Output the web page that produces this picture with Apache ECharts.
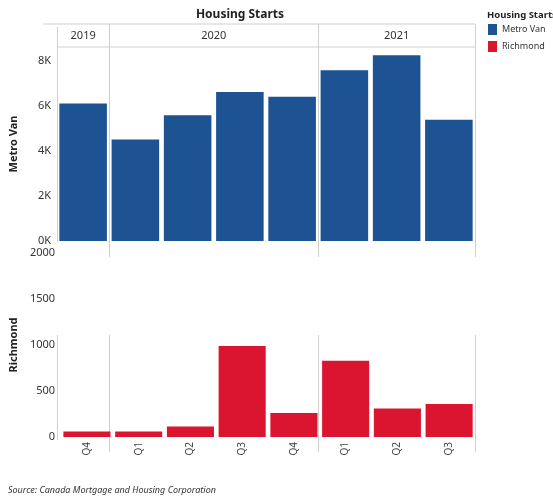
<!DOCTYPE html>
<html>
<head>
<meta charset="utf-8">
<script src="https://cdn.jsdelivr.net/npm/echarts@6/dist/echarts.min.js"></script>
<style>html,body{margin:0;padding:0;background:#fff}#c{width:553px;height:498px}</style>
</head>
<body>
<div id="c"></div>
<script>
const quarters = ['Q4','Q1','Q2','Q3','Q4','Q1','Q2','Q3'];
const years = ['2019','2020','2020','2020','2020','2021','2021','2021'];
const metroVan = [6100, 4500, 5580, 6600, 6390, 7570, 8230, 5380];
const richmond = [60, 60, 115, 990, 260, 830, 310, 360];
const metroTicks = [0, 2000, 4000, 6000, 8000];
const richTicks = [0, 500, 1000, 1500, 2000];

const BLUE = '#1d5293', RED = '#db1530';
const FONT = 'Noto Sans';
const chart = echarts.init(document.getElementById('c'), null, {renderer: 'canvas'});

const option = {
  animation: false,
  textStyle: {fontFamily: FONT},
  legend: {
    data: ['Metro Van', 'Richmond'],
    orient: 'vertical', left: 488, top: 24, padding: 0,
    itemWidth: 9, itemHeight: 11, itemGap: 6, icon: 'rect',
    textStyle: {fontSize: 9, color: '#333', fontFamily: FONT}
  },
  grid: [
    {left: 55, width: 420, top: 47, height: 194},
    {left: 55, width: 420, top: 253, height: 184}
  ],
  xAxis: [
    {type: 'category', gridIndex: 0, data: quarters, axisLine: {show: false}, axisTick: {show: false}, axisLabel: {show: false}},
    {type: 'category', gridIndex: 1, data: quarters, axisLine: {show: false}, axisTick: {show: false},
     axisLabel: {rotate: 90, fontSize: 10, color: '#444', margin: 5, fontFamily: FONT}},
    {type: 'value', gridIndex: 0, min: 0, max: quarters.length, show: false}
  ],
  yAxis: [
    {type: 'value', gridIndex: 0, min: 0, max: 8600, interval: 2000,
     name: 'Metro Van', nameLocation: 'middle', nameGap: 38, nameRotate: 90,
     nameTextStyle: {fontSize: 11, fontWeight: 'bold', color: '#222', fontFamily: FONT},
     axisLine: {show: false}, axisTick: {show: false}, splitLine: {show: false},
     axisLabel: {fontSize: 11, color: '#333', margin: 6, padding: [0,0,7,0], fontFamily: FONT,
       formatter: v => metroTicks.includes(v) ? (v/1000) + 'K' : ''}},
    {type: 'value', gridIndex: 1, min: 0, max: 2000, interval: 500,
     name: 'Richmond', nameLocation: 'middle', nameGap: 38, nameRotate: 90,
     nameTextStyle: {fontSize: 11, fontWeight: 'bold', color: '#222', fontFamily: FONT},
     axisLine: {show: false}, axisTick: {show: false}, splitLine: {show: false},
     axisLabel: {fontSize: 11, color: '#333', margin: 6, padding: [0,0,7,0], fontFamily: FONT,
       formatter: v => richTicks.includes(v) ? String(v) : ''}}
  ],
  series: [
    {name: 'Metro Van', type: 'bar', xAxisIndex: 0, yAxisIndex: 0, data: metroVan,
     itemStyle: {color: BLUE}, barCategoryGap: '9%'},
    {name: 'Richmond', type: 'bar', xAxisIndex: 1, yAxisIndex: 1, data: richmond,
     itemStyle: {color: RED}, barCategoryGap: '9%'}
  ]
};
chart.setOption(option);

// Header / dividers derived from axis scale
const px = v => chart.convertToPixel({xAxisIndex: 2}, v);
const topY0 = chart.convertToPixel({yAxisIndex: 0}, 0);
const topY1 = chart.convertToPixel({yAxisIndex: 0}, 8600);
const botY0 = chart.convertToPixel({yAxisIndex: 1}, 0);
const lineStyle = {stroke: '#cfcfcf', lineWidth: 1};
const graphics = [];
// group boundaries
const groups = [];
years.forEach((y, i) => {
  if (!groups.length || groups[groups.length-1].year !== y) groups.push({year: y, start: i, end: i+1});
  else groups[groups.length-1].end = i+1;
});
const bounds = [0].concat(groups.map(g => g.end));
const headerY = 24;
graphics.push({type: 'line', shape: {x1: 43, y1: headerY, x2: px(quarters.length), y2: headerY}, style: lineStyle});
graphics.push({type: 'line', shape: {x1: px(0), y1: topY1, x2: px(quarters.length), y2: topY1}, style: lineStyle});
bounds.forEach((b, i) => {
  const x = Math.round(px(b)) + 0.5;
  graphics.push({type: 'line', shape: {x1: x, y1: i === 0 ? headerY + 3 : headerY, x2: x, y2: i === 0 ? topY0 : topY0 + 16}, style: lineStyle});
  graphics.push({type: 'line', shape: {x1: x, y1: 335, x2: x, y2: i === 0 ? botY0 + 3 : botY0 + 15}, style: lineStyle});
});
groups.forEach(g => {
  graphics.push({type: 'text', x: (px(g.start) + px(g.end)) / 2, y: (headerY + topY1) / 2,
    style: {text: g.year, fill: '#333', font: '11px "' + FONT + '"', textAlign: 'center', textVerticalAlign: 'middle'}});
});
graphics.push({type: 'text', x: 240, y: 15, style: {text: 'Housing Starts', fill: '#222',
  font: 'bold 12px "' + FONT + '"', textAlign: 'center', textVerticalAlign: 'middle'}});
graphics.push({type: 'text', x: 487, y: 15, style: {text: 'Housing Starts', fill: '#222',
  font: 'bold 9.5px "' + FONT + '"', textAlign: 'left', textVerticalAlign: 'middle'}});
graphics.push({type: 'text', x: 8, y: 490, style: {text: 'Source: Canada Mortgage and Housing Corporation', fill: '#333',
  font: 'italic 9px "' + FONT + '"', textAlign: 'left', textVerticalAlign: 'middle'}});
chart.setOption({graphic: graphics});
</script>
</body>
</html>
